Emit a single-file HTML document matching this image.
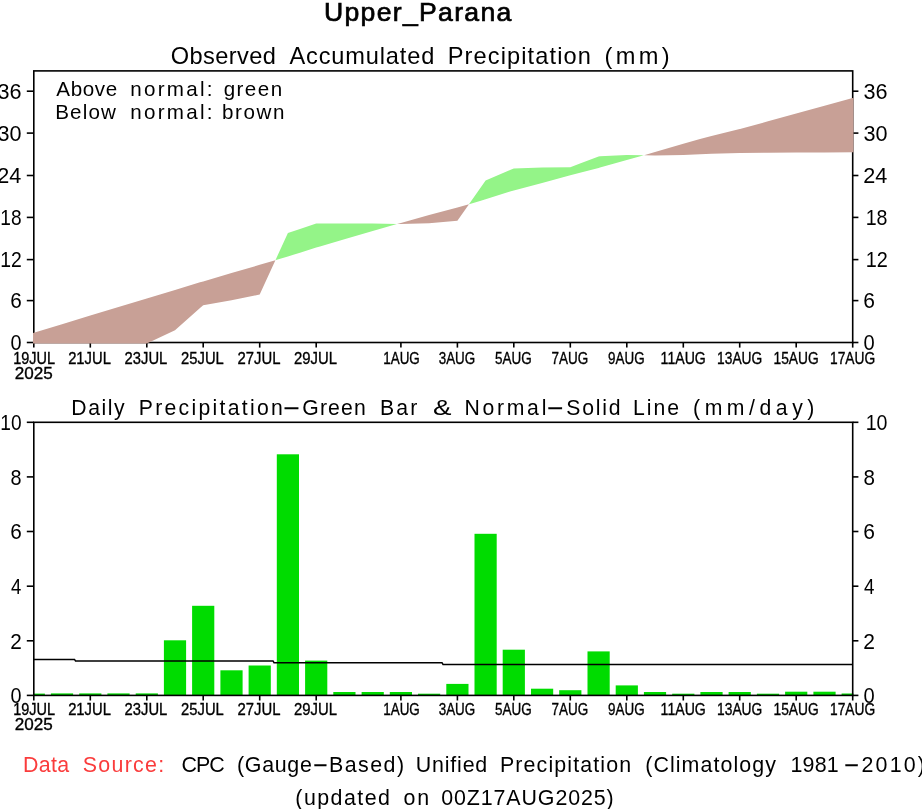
<!DOCTYPE html>
<html lang="en"><head><meta charset="utf-8"><title>Upper_Parana</title>
<style>html,body{margin:0;padding:0;background:#fff;overflow:hidden}svg{display:block}text{font-family:"Liberation Sans",sans-serif;fill:#000}</style></head><body>
<svg width="922" height="809" viewBox="0 0 922 809">
<rect width="922" height="809" fill="#fff"/>
<text id="t1" x="324.00" y="20.5" font-size="26.6" textLength="187.30" lengthAdjust="spacing" stroke="#000" stroke-width="0.7">Upper_Parana</text>
<text id="t2" x="170.65" y="64.0" font-size="23.6" textLength="105.20" lengthAdjust="spacing">Observed</text>
<text id="t3" x="289.45" y="64.0" font-size="23.6" textLength="144.90" lengthAdjust="spacing">Accumulated</text>
<text id="t4" x="447.70" y="64.0" font-size="23.6" textLength="143.15" lengthAdjust="spacing">Precipitation</text>
<text id="t5" x="604.50" y="64.0" font-size="23.6" textLength="65.15" lengthAdjust="spacing">(mm)</text>
<rect x="33.8" y="70.9" width="818.9" height="271.6" fill="none" stroke="#000" stroke-width="1.60"/>
<line x1="26.8" y1="342.5" x2="33.8" y2="342.5" stroke="#000" stroke-width="1.60"/>
<line x1="852.7" y1="342.5" x2="858.4" y2="342.5" stroke="#000" stroke-width="1.60"/>
<text id="t6" x="10.55" y="350.2" font-size="21.4" textLength="11.05" lengthAdjust="spacingAndGlyphs">0</text>
<text id="t7" x="863.55" y="350.2" font-size="21.4" textLength="11.20" lengthAdjust="spacingAndGlyphs">0</text>
<line x1="26.8" y1="300.6" x2="33.8" y2="300.6" stroke="#000" stroke-width="1.60"/>
<line x1="852.7" y1="300.6" x2="858.4" y2="300.6" stroke="#000" stroke-width="1.60"/>
<text id="t8" x="10.30" y="308.3" font-size="21.4" textLength="11.55" lengthAdjust="spacingAndGlyphs">6</text>
<text id="t9" x="863.30" y="308.3" font-size="21.4" textLength="11.70" lengthAdjust="spacingAndGlyphs">6</text>
<line x1="26.8" y1="259.6" x2="33.8" y2="259.6" stroke="#000" stroke-width="1.60"/>
<line x1="852.7" y1="259.6" x2="858.4" y2="259.6" stroke="#000" stroke-width="1.60"/>
<text id="t10" x="0.35" y="267.3" font-size="21.4" textLength="21.50" lengthAdjust="spacingAndGlyphs">12</text>
<text id="t11" x="865.65" y="267.3" font-size="21.4" textLength="22.05" lengthAdjust="spacingAndGlyphs">12</text>
<line x1="26.8" y1="217.4" x2="33.8" y2="217.4" stroke="#000" stroke-width="1.60"/>
<line x1="852.7" y1="217.4" x2="858.4" y2="217.4" stroke="#000" stroke-width="1.60"/>
<text id="t12" x="0.35" y="225.1" font-size="21.4" textLength="21.25" lengthAdjust="spacingAndGlyphs">18</text>
<text id="t13" x="865.65" y="225.1" font-size="21.4" textLength="21.80" lengthAdjust="spacingAndGlyphs">18</text>
<line x1="26.8" y1="175.5" x2="33.8" y2="175.5" stroke="#000" stroke-width="1.60"/>
<line x1="852.7" y1="175.5" x2="858.4" y2="175.5" stroke="#000" stroke-width="1.60"/>
<text id="t14" x="-2.70" y="183.2" font-size="21.4" textLength="24.05" lengthAdjust="spacingAndGlyphs">24</text>
<text id="t15" x="863.15" y="183.2" font-size="21.4" textLength="24.05" lengthAdjust="spacingAndGlyphs">24</text>
<line x1="26.8" y1="133.1" x2="33.8" y2="133.1" stroke="#000" stroke-width="1.60"/>
<line x1="852.7" y1="133.1" x2="858.4" y2="133.1" stroke="#000" stroke-width="1.60"/>
<text id="t16" x="-2.45" y="140.8" font-size="21.4" textLength="24.05" lengthAdjust="spacingAndGlyphs">30</text>
<text id="t17" x="863.40" y="140.8" font-size="21.4" textLength="24.05" lengthAdjust="spacingAndGlyphs">30</text>
<line x1="26.8" y1="91.2" x2="33.8" y2="91.2" stroke="#000" stroke-width="1.60"/>
<line x1="852.7" y1="91.2" x2="858.4" y2="91.2" stroke="#000" stroke-width="1.60"/>
<text id="t18" x="-2.45" y="98.9" font-size="21.4" textLength="24.05" lengthAdjust="spacingAndGlyphs">36</text>
<text id="t19" x="863.40" y="98.9" font-size="21.4" textLength="24.05" lengthAdjust="spacingAndGlyphs">36</text>
<line x1="33.8" y1="342.5" x2="33.8" y2="347.6" stroke="#000" stroke-width="1.60"/>
<text id="t20" x="13.25" y="364.1" font-size="16.8" textLength="41.90" lengthAdjust="spacingAndGlyphs" stroke="#000" stroke-width="0.35">19JUL</text>
<line x1="90.3" y1="342.5" x2="90.3" y2="347.6" stroke="#000" stroke-width="1.60"/>
<text id="t21" x="68.16" y="364.1" font-size="16.8" textLength="42.70" lengthAdjust="spacingAndGlyphs" stroke="#000" stroke-width="0.35">21JUL</text>
<line x1="146.8" y1="342.5" x2="146.8" y2="347.6" stroke="#000" stroke-width="1.60"/>
<text id="t22" x="124.62" y="364.1" font-size="16.8" textLength="42.70" lengthAdjust="spacingAndGlyphs" stroke="#000" stroke-width="0.35">23JUL</text>
<line x1="203.2" y1="342.5" x2="203.2" y2="347.6" stroke="#000" stroke-width="1.60"/>
<text id="t23" x="181.08" y="364.1" font-size="16.8" textLength="42.70" lengthAdjust="spacingAndGlyphs" stroke="#000" stroke-width="0.35">25JUL</text>
<line x1="259.7" y1="342.5" x2="259.7" y2="347.6" stroke="#000" stroke-width="1.60"/>
<text id="t24" x="237.54" y="364.1" font-size="16.8" textLength="42.95" lengthAdjust="spacingAndGlyphs" stroke="#000" stroke-width="0.35">27JUL</text>
<line x1="316.2" y1="342.5" x2="316.2" y2="347.6" stroke="#000" stroke-width="1.60"/>
<text id="t25" x="294.00" y="364.1" font-size="16.8" textLength="42.95" lengthAdjust="spacingAndGlyphs" stroke="#000" stroke-width="0.35">29JUL</text>
<line x1="400.9" y1="342.5" x2="400.9" y2="347.6" stroke="#000" stroke-width="1.60"/>
<text id="t26" x="383.27" y="364.1" font-size="16.8" textLength="36.55" lengthAdjust="spacingAndGlyphs" stroke="#000" stroke-width="0.35">1AUG</text>
<line x1="457.4" y1="342.5" x2="457.4" y2="347.6" stroke="#000" stroke-width="1.60"/>
<text id="t27" x="438.73" y="364.1" font-size="16.8" textLength="36.50" lengthAdjust="spacingAndGlyphs" stroke="#000" stroke-width="0.35">3AUG</text>
<line x1="513.8" y1="342.5" x2="513.8" y2="347.6" stroke="#000" stroke-width="1.60"/>
<text id="t28" x="494.94" y="364.1" font-size="16.8" textLength="36.75" lengthAdjust="spacingAndGlyphs" stroke="#000" stroke-width="0.35">5AUG</text>
<line x1="570.3" y1="342.5" x2="570.3" y2="347.6" stroke="#000" stroke-width="1.60"/>
<text id="t29" x="551.40" y="364.1" font-size="16.8" textLength="36.75" lengthAdjust="spacingAndGlyphs" stroke="#000" stroke-width="0.35">7AUG</text>
<line x1="626.8" y1="342.5" x2="626.8" y2="347.6" stroke="#000" stroke-width="1.60"/>
<text id="t30" x="608.11" y="364.1" font-size="16.8" textLength="36.50" lengthAdjust="spacingAndGlyphs" stroke="#000" stroke-width="0.35">9AUG</text>
<line x1="683.3" y1="342.5" x2="683.3" y2="347.6" stroke="#000" stroke-width="1.60"/>
<text id="t31" x="660.62" y="364.1" font-size="16.8" textLength="45.20" lengthAdjust="spacingAndGlyphs" stroke="#000" stroke-width="0.35">11AUG</text>
<line x1="739.7" y1="342.5" x2="739.7" y2="347.6" stroke="#000" stroke-width="1.60"/>
<text id="t32" x="717.08" y="364.1" font-size="16.8" textLength="45.20" lengthAdjust="spacingAndGlyphs" stroke="#000" stroke-width="0.35">13AUG</text>
<line x1="796.2" y1="342.5" x2="796.2" y2="347.6" stroke="#000" stroke-width="1.60"/>
<text id="t33" x="773.54" y="364.1" font-size="16.8" textLength="45.20" lengthAdjust="spacingAndGlyphs" stroke="#000" stroke-width="0.35">15AUG</text>
<line x1="852.7" y1="342.5" x2="852.7" y2="347.6" stroke="#000" stroke-width="1.60"/>
<text id="t34" x="830.00" y="364.1" font-size="16.8" textLength="45.20" lengthAdjust="spacingAndGlyphs" stroke="#000" stroke-width="0.35">17AUG</text>
<text id="t35" x="14.70" y="379.3" font-size="16.8" textLength="38.05" lengthAdjust="spacingAndGlyphs" stroke="#000" stroke-width="0.35">2025</text>
<polygon points="33.0,333.0 62.0,324.2 90.3,315.6 118.5,307.0 146.8,298.5 175.0,289.9 200.0,282.3 203.2,281.4 231.5,273.1 259.7,264.8 275.4,260.2 275.4,260.2 259.7,294.6 231.5,300.3 203.2,305.2 200.0,308.1 175.0,330.2 146.8,343.4 118.5,343.4 90.3,343.4 62.0,343.4 33.0,343.4" fill="#C8A096"/>
<polygon points="275.4,260.2 275.9,260.1 287.9,256.4 300.0,252.7 316.2,247.6 320.0,246.4 344.4,239.3 372.7,231.0 396.9,223.9 396.9,223.9 372.7,223.6 344.4,223.5 320.0,223.5 316.2,223.5 300.0,228.9 287.9,232.9 275.9,259.2 275.4,260.2" fill="#94F488"/>
<polygon points="396.9,223.9 397.1,223.9 400.9,222.9 429.1,215.1 457.4,207.4 469.0,204.2 469.0,204.2 457.4,220.8 429.1,223.3 400.9,224.0 397.1,223.9 396.9,223.9" fill="#C8A096"/>
<polygon points="469.0,204.2 469.1,204.2 480.0,200.9 485.6,199.2 510.0,191.6 513.8,190.6 542.1,182.9 570.3,175.3 580.0,172.7 598.6,167.9 600.0,167.5 626.8,160.0 643.9,155.2 643.9,155.2 626.8,155.0 600.0,156.3 598.6,156.4 580.0,163.5 570.3,167.2 542.1,167.5 513.8,168.5 510.0,170.1 485.6,180.5 480.0,188.5 469.1,204.1 469.0,204.2" fill="#94F488"/>
<polygon points="643.9,155.2 644.1,155.2 655.0,152.0 683.3,143.8 700.0,139.0 711.5,136.1 739.7,129.1 740.0,129.0 768.0,121.3 796.2,113.5 824.5,105.8 853.5,97.8 853.5,152.3 824.5,152.4 796.2,152.6 768.0,152.7 740.0,152.9 739.7,152.9 711.5,153.8 700.0,154.3 683.3,155.0 655.0,155.4 644.1,155.2 643.9,155.2" fill="#C8A096"/>
<text id="t36" x="56.30" y="96.3" font-size="20.6" textLength="60.85" lengthAdjust="spacing">Above</text>
<text id="t37" x="130.20" y="96.3" font-size="20.6" textLength="82.25" lengthAdjust="spacing">normal:</text>
<text id="t38" x="223.70" y="96.3" font-size="20.6" textLength="58.40" lengthAdjust="spacing">green</text>
<text id="t39" x="55.25" y="118.6" font-size="20.6" textLength="60.60" lengthAdjust="spacing">Below</text>
<text id="t40" x="130.20" y="118.6" font-size="20.6" textLength="82.25" lengthAdjust="spacing">normal:</text>
<text id="t41" x="222.05" y="118.6" font-size="20.6" textLength="62.35" lengthAdjust="spacing">brown</text>
<text id="t42" x="71.30" y="414.9" font-size="21.2" textLength="53.25" lengthAdjust="spacing">Daily</text>
<text id="t43" x="138.80" y="414.9" font-size="21.2" textLength="144.00" lengthAdjust="spacing">Precipitation</text>
<text id="t44" x="284.75" y="413.8" font-size="21.2" textLength="13.45" lengthAdjust="spacingAndGlyphs" stroke="#000" stroke-width="0.5">—</text>
<text id="t45" x="302.25" y="414.9" font-size="21.2" textLength="63.55" lengthAdjust="spacing">Green</text>
<text id="t46" x="380.10" y="414.9" font-size="21.2" textLength="37.15" lengthAdjust="spacing">Bar</text>
<text id="t47" x="433.00" y="414.9" font-size="21.2" textLength="18.50" lengthAdjust="spacingAndGlyphs">&amp;</text>
<text id="t48" x="464.40" y="414.9" font-size="21.2" textLength="81.95" lengthAdjust="spacing">Normal</text>
<text id="t49" x="548.55" y="413.8" font-size="21.2" textLength="13.45" lengthAdjust="spacingAndGlyphs" stroke="#000" stroke-width="0.5">—</text>
<text id="t50" x="566.35" y="414.9" font-size="21.2" textLength="54.15" lengthAdjust="spacing">Solid</text>
<text id="t51" x="632.95" y="414.9" font-size="21.2" textLength="46.20" lengthAdjust="spacing">Line</text>
<text id="t52" x="693.05" y="414.9" font-size="21.2" textLength="121.35" lengthAdjust="spacing">(mm/day)</text>
<rect x="33.0" y="693.6" width="11.9" height="1.8" fill="#00DC00"/>
<rect x="50.9" y="693.4" width="22.2" height="2.0" fill="#00DC00"/>
<rect x="79.2" y="693.4" width="22.2" height="2.0" fill="#00DC00"/>
<rect x="107.4" y="693.4" width="22.2" height="2.0" fill="#00DC00"/>
<rect x="135.7" y="693.4" width="22.2" height="2.0" fill="#00DC00"/>
<rect x="163.9" y="640.3" width="22.2" height="55.1" fill="#00DC00"/>
<rect x="192.1" y="605.8" width="22.2" height="89.6" fill="#00DC00"/>
<rect x="220.4" y="670.3" width="22.2" height="25.1" fill="#00DC00"/>
<rect x="248.6" y="665.5" width="22.2" height="29.9" fill="#00DC00"/>
<rect x="276.8" y="454.3" width="22.2" height="241.1" fill="#00DC00"/>
<rect x="305.1" y="660.6" width="22.2" height="34.8" fill="#00DC00"/>
<rect x="333.3" y="692.0" width="22.2" height="3.4" fill="#00DC00"/>
<rect x="361.6" y="692.0" width="22.2" height="3.4" fill="#00DC00"/>
<rect x="389.8" y="692.0" width="22.2" height="3.4" fill="#00DC00"/>
<rect x="418.0" y="693.7" width="22.2" height="1.7" fill="#00DC00"/>
<rect x="446.3" y="683.9" width="22.2" height="11.5" fill="#00DC00"/>
<rect x="474.5" y="533.8" width="22.2" height="161.6" fill="#00DC00"/>
<rect x="502.7" y="649.7" width="22.2" height="45.7" fill="#00DC00"/>
<rect x="531.0" y="688.7" width="22.2" height="6.7" fill="#00DC00"/>
<rect x="559.2" y="690.2" width="22.2" height="5.2" fill="#00DC00"/>
<rect x="587.5" y="651.4" width="22.2" height="44.0" fill="#00DC00"/>
<rect x="615.7" y="685.4" width="22.2" height="10.0" fill="#00DC00"/>
<rect x="643.9" y="692.0" width="22.2" height="3.4" fill="#00DC00"/>
<rect x="672.2" y="693.7" width="22.2" height="1.7" fill="#00DC00"/>
<rect x="700.4" y="692.0" width="22.2" height="3.4" fill="#00DC00"/>
<rect x="728.6" y="692.0" width="22.2" height="3.4" fill="#00DC00"/>
<rect x="756.9" y="693.7" width="22.2" height="1.7" fill="#00DC00"/>
<rect x="785.1" y="691.7" width="22.2" height="3.7" fill="#00DC00"/>
<rect x="813.4" y="691.7" width="22.2" height="3.7" fill="#00DC00"/>
<rect x="841.6" y="693.5" width="11.9" height="1.9" fill="#00DC00"/>
<rect x="33.8" y="422.3" width="818.9" height="273.1" fill="none" stroke="#000" stroke-width="1.60"/>
<line x1="26.8" y1="695.4" x2="33.8" y2="695.4" stroke="#000" stroke-width="1.60"/>
<line x1="852.7" y1="695.4" x2="858.4" y2="695.4" stroke="#000" stroke-width="1.60"/>
<text id="t53" x="10.55" y="703.1" font-size="21.4" textLength="11.05" lengthAdjust="spacingAndGlyphs">0</text>
<text id="t54" x="863.55" y="703.1" font-size="21.4" textLength="11.20" lengthAdjust="spacingAndGlyphs">0</text>
<line x1="26.8" y1="640.8" x2="33.8" y2="640.8" stroke="#000" stroke-width="1.60"/>
<line x1="852.7" y1="640.8" x2="858.4" y2="640.8" stroke="#000" stroke-width="1.60"/>
<text id="t55" x="10.30" y="648.5" font-size="21.4" textLength="11.55" lengthAdjust="spacingAndGlyphs">2</text>
<text id="t56" x="863.30" y="648.5" font-size="21.4" textLength="11.70" lengthAdjust="spacingAndGlyphs">2</text>
<line x1="26.8" y1="586.2" x2="33.8" y2="586.2" stroke="#000" stroke-width="1.60"/>
<line x1="852.7" y1="586.2" x2="858.4" y2="586.2" stroke="#000" stroke-width="1.60"/>
<text id="t57" x="11.05" y="593.9" font-size="21.4" textLength="10.30" lengthAdjust="spacingAndGlyphs">4</text>
<text id="t58" x="864.05" y="593.9" font-size="21.4" textLength="10.45" lengthAdjust="spacingAndGlyphs">4</text>
<line x1="26.8" y1="531.5" x2="33.8" y2="531.5" stroke="#000" stroke-width="1.60"/>
<line x1="852.7" y1="531.5" x2="858.4" y2="531.5" stroke="#000" stroke-width="1.60"/>
<text id="t59" x="10.30" y="539.2" font-size="21.4" textLength="11.55" lengthAdjust="spacingAndGlyphs">6</text>
<text id="t60" x="863.30" y="539.2" font-size="21.4" textLength="11.70" lengthAdjust="spacingAndGlyphs">6</text>
<line x1="26.8" y1="476.9" x2="33.8" y2="476.9" stroke="#000" stroke-width="1.60"/>
<line x1="852.7" y1="476.9" x2="858.4" y2="476.9" stroke="#000" stroke-width="1.60"/>
<text id="t61" x="10.55" y="484.6" font-size="21.4" textLength="11.05" lengthAdjust="spacingAndGlyphs">8</text>
<text id="t62" x="863.55" y="484.6" font-size="21.4" textLength="11.45" lengthAdjust="spacingAndGlyphs">8</text>
<line x1="26.8" y1="422.3" x2="33.8" y2="422.3" stroke="#000" stroke-width="1.60"/>
<line x1="852.7" y1="422.3" x2="858.4" y2="422.3" stroke="#000" stroke-width="1.60"/>
<text id="t63" x="0.35" y="430.0" font-size="21.4" textLength="21.25" lengthAdjust="spacingAndGlyphs">10</text>
<text id="t64" x="865.65" y="430.0" font-size="21.4" textLength="21.80" lengthAdjust="spacingAndGlyphs">10</text>
<line x1="33.8" y1="695.4" x2="33.8" y2="700.5" stroke="#000" stroke-width="1.60"/>
<text id="t65" x="13.25" y="715.1" font-size="16.8" textLength="41.90" lengthAdjust="spacingAndGlyphs" stroke="#000" stroke-width="0.35">19JUL</text>
<line x1="90.3" y1="695.4" x2="90.3" y2="700.5" stroke="#000" stroke-width="1.60"/>
<text id="t66" x="68.16" y="715.1" font-size="16.8" textLength="42.70" lengthAdjust="spacingAndGlyphs" stroke="#000" stroke-width="0.35">21JUL</text>
<line x1="146.8" y1="695.4" x2="146.8" y2="700.5" stroke="#000" stroke-width="1.60"/>
<text id="t67" x="124.62" y="715.1" font-size="16.8" textLength="42.70" lengthAdjust="spacingAndGlyphs" stroke="#000" stroke-width="0.35">23JUL</text>
<line x1="203.2" y1="695.4" x2="203.2" y2="700.5" stroke="#000" stroke-width="1.60"/>
<text id="t68" x="181.08" y="715.1" font-size="16.8" textLength="42.70" lengthAdjust="spacingAndGlyphs" stroke="#000" stroke-width="0.35">25JUL</text>
<line x1="259.7" y1="695.4" x2="259.7" y2="700.5" stroke="#000" stroke-width="1.60"/>
<text id="t69" x="237.54" y="715.1" font-size="16.8" textLength="42.95" lengthAdjust="spacingAndGlyphs" stroke="#000" stroke-width="0.35">27JUL</text>
<line x1="316.2" y1="695.4" x2="316.2" y2="700.5" stroke="#000" stroke-width="1.60"/>
<text id="t70" x="294.00" y="715.1" font-size="16.8" textLength="42.95" lengthAdjust="spacingAndGlyphs" stroke="#000" stroke-width="0.35">29JUL</text>
<line x1="400.9" y1="695.4" x2="400.9" y2="700.5" stroke="#000" stroke-width="1.60"/>
<text id="t71" x="383.27" y="715.1" font-size="16.8" textLength="36.55" lengthAdjust="spacingAndGlyphs" stroke="#000" stroke-width="0.35">1AUG</text>
<line x1="457.4" y1="695.4" x2="457.4" y2="700.5" stroke="#000" stroke-width="1.60"/>
<text id="t72" x="438.73" y="715.1" font-size="16.8" textLength="36.50" lengthAdjust="spacingAndGlyphs" stroke="#000" stroke-width="0.35">3AUG</text>
<line x1="513.8" y1="695.4" x2="513.8" y2="700.5" stroke="#000" stroke-width="1.60"/>
<text id="t73" x="494.94" y="715.1" font-size="16.8" textLength="36.75" lengthAdjust="spacingAndGlyphs" stroke="#000" stroke-width="0.35">5AUG</text>
<line x1="570.3" y1="695.4" x2="570.3" y2="700.5" stroke="#000" stroke-width="1.60"/>
<text id="t74" x="551.40" y="715.1" font-size="16.8" textLength="36.75" lengthAdjust="spacingAndGlyphs" stroke="#000" stroke-width="0.35">7AUG</text>
<line x1="626.8" y1="695.4" x2="626.8" y2="700.5" stroke="#000" stroke-width="1.60"/>
<text id="t75" x="608.11" y="715.1" font-size="16.8" textLength="36.50" lengthAdjust="spacingAndGlyphs" stroke="#000" stroke-width="0.35">9AUG</text>
<line x1="683.3" y1="695.4" x2="683.3" y2="700.5" stroke="#000" stroke-width="1.60"/>
<text id="t76" x="660.62" y="715.1" font-size="16.8" textLength="45.20" lengthAdjust="spacingAndGlyphs" stroke="#000" stroke-width="0.35">11AUG</text>
<line x1="739.7" y1="695.4" x2="739.7" y2="700.5" stroke="#000" stroke-width="1.60"/>
<text id="t77" x="717.08" y="715.1" font-size="16.8" textLength="45.20" lengthAdjust="spacingAndGlyphs" stroke="#000" stroke-width="0.35">13AUG</text>
<line x1="796.2" y1="695.4" x2="796.2" y2="700.5" stroke="#000" stroke-width="1.60"/>
<text id="t78" x="773.54" y="715.1" font-size="16.8" textLength="45.20" lengthAdjust="spacingAndGlyphs" stroke="#000" stroke-width="0.35">15AUG</text>
<line x1="852.7" y1="695.4" x2="852.7" y2="700.5" stroke="#000" stroke-width="1.60"/>
<text id="t79" x="830.00" y="715.1" font-size="16.8" textLength="45.20" lengthAdjust="spacingAndGlyphs" stroke="#000" stroke-width="0.35">17AUG</text>
<text id="t80" x="14.70" y="730.3" font-size="16.8" textLength="38.05" lengthAdjust="spacingAndGlyphs" stroke="#000" stroke-width="0.35">2025</text>
<polyline points="33.8,659.4 74.5,659.4 75.5,660.9 273.0,660.9 274.0,662.7 442.0,662.7 443.0,664.4 852.7,664.4" fill="none" stroke="#000" stroke-width="1.5"/>
<text id="t81" x="22.90" y="771.8" font-size="21.4" textLength="46.25" lengthAdjust="spacing" style="fill:#FA3C3C">Data</text>
<text id="t82" x="82.80" y="771.8" font-size="21.4" textLength="81.30" lengthAdjust="spacing" style="fill:#FA3C3C">Source:</text>
<text id="t83" x="181.45" y="771.8" font-size="21.4" textLength="43.15" lengthAdjust="spacing">CPC</text>
<text id="t84" x="237.05" y="771.8" font-size="21.4" textLength="74.80" lengthAdjust="spacing">(Gauge</text>
<text id="t85" x="314.55" y="770.7" font-size="21.4" textLength="11.80" lengthAdjust="spacingAndGlyphs" stroke="#000" stroke-width="0.5">—</text>
<text id="t86" x="328.95" y="771.8" font-size="21.4" textLength="75.15" lengthAdjust="spacing">Based)</text>
<text id="t87" x="415.80" y="771.8" font-size="21.4" textLength="71.45" lengthAdjust="spacing">Unified</text>
<text id="t88" x="499.95" y="771.8" font-size="21.4" textLength="131.15" lengthAdjust="spacing">Precipitation</text>
<text id="t89" x="645.20" y="771.8" font-size="21.4" textLength="130.65" lengthAdjust="spacing">(Climatology</text>
<text id="t90" x="790.50" y="771.8" font-size="21.4" textLength="48.25" lengthAdjust="spacing">1981</text>
<text id="t91" x="845.45" y="770.7" font-size="21.4" textLength="12.15" lengthAdjust="spacingAndGlyphs" stroke="#000" stroke-width="0.5">—</text>
<text id="t92" x="861.60" y="771.8" font-size="21.4" textLength="63.20" lengthAdjust="spacing">2010)</text>
<text id="t93" x="295.35" y="804.8" font-size="21.4" textLength="94.60" lengthAdjust="spacing">(updated</text>
<text id="t94" x="403.55" y="804.8" font-size="21.4" textLength="25.55" lengthAdjust="spacing">on</text>
<text id="t95" x="441.25" y="804.8" font-size="21.4" textLength="172.40" lengthAdjust="spacing">00Z17AUG2025)</text>
</svg></body></html>
